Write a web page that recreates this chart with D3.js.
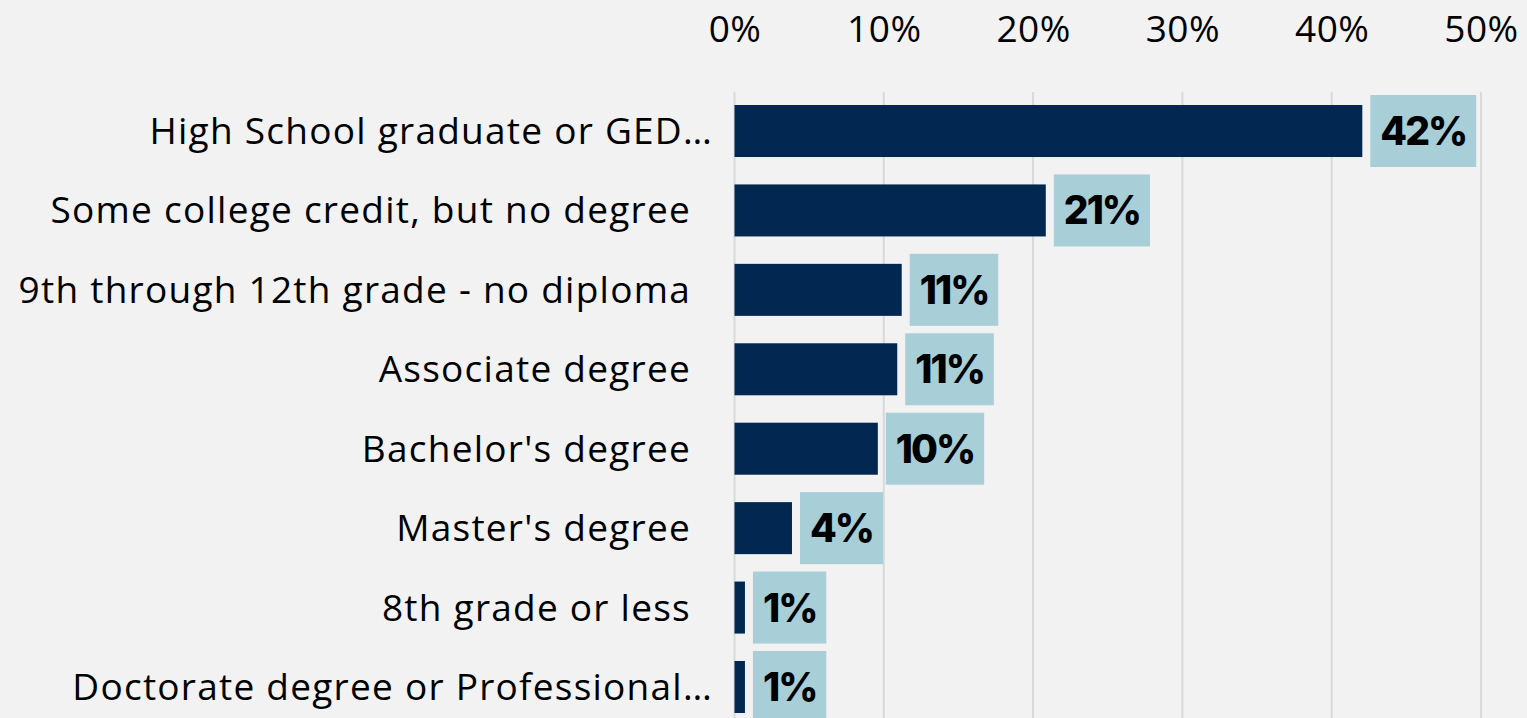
<!DOCTYPE html>
<html><head><meta charset="utf-8">
<script src="https://cdn.jsdelivr.net/npm/d3@7"></script>
<style>
html,body{margin:0;padding:0;background:#f2f2f2;}
svg{display:block;}
</style></head><body>
<svg id="chart" width="1527" height="718"></svg>
<script>
const categories = [
  "High School graduate or GED…",
  "Some college credit, but no degree",
  "9th through 12th grade - no diploma",
  "Associate degree",
  "Bachelor's degree",
  "Master's degree",
  "8th grade or less",
  "Doctorate degree or Professional…"
];
const values = [42.05, 20.85, 11.2, 10.9, 9.6, 3.85, 0.7, 0.7];
const valueLabels = ["42%", "21%", "11%", "11%", "10%", "4%", "1%", "1%"];
const tickValues = [0, 10, 20, 30, 40, 50];

const svg = d3.select("#chart");
const W = 1527, H = 718;
svg.append("rect").attr("width", W).attr("height", H).attr("fill", "#f2f2f2");

const x = d3.scaleLinear().domain([0, 50]).range([734.5, 1481]);
const y = d3.scaleBand().domain(categories).range([91.3, 726.7]).paddingInner(0.345).paddingOuter(0.1725);

// gridlines
svg.append("g").selectAll("line").data(tickValues).join("line")
  .attr("x1", d => x(d)).attr("x2", d => x(d))
  .attr("y1", 92).attr("y2", H)
  .attr("stroke", "#d9d9d9").attr("stroke-width", 2);

// top axis
const axis = svg.append("g").attr("transform", "translate(0,42)")
  .call(d3.axisTop(x).tickValues(tickValues).tickFormat(d => d + "%").tickSize(0).tickPadding(0));
axis.select(".domain").remove();
axis.selectAll("text").attr("font-family", "'Open Sans', sans-serif").attr("font-size", 37)
  .attr("letter-spacing", 0.5)
  .attr("fill", "#000").attr("dy", 0);

// bars
svg.append("g").selectAll("rect").data(categories).join("rect")
  .attr("x", x(0)).attr("y", d => y(d))
  .attr("width", (d, i) => x(values[i]) - x(0))
  .attr("height", y.bandwidth())
  .attr("fill", "#022852");

// category labels
svg.append("g").selectAll("text").data(categories).join("text")
  .attr("x", d => d.endsWith("…") ? 713 : 691)
  .attr("y", d => y(d) + y.bandwidth() / 2)
  .attr("dy", "0.35em")
  .attr("text-anchor", "end")
  .attr("font-family", "'Open Sans', sans-serif").attr("font-size", 37)
  .attr("letter-spacing", 1.25)
  .attr("fill", "#000")
  .text(d => d);

// value labels with box
const lg = svg.append("g").selectAll("g").data(categories).join("g");
lg.each(function(d, i) {
  const g = d3.select(this);
  const bx = x(values[i]) + 8;
  const cy = y(d) + y.bandwidth() / 2;
  const rect = g.append("rect").attr("fill", "#a8ced8");
  const t = g.append("text")
    .attr("x", bx + 10).attr("y", cy).attr("dy", "0.36em")
    .attr("font-family", "Inter, sans-serif").attr("font-weight", 800).attr("font-size", 39)
    .attr("letter-spacing", -2)
    .attr("fill", "#000").text(valueLabels[i]);
  const w = t.node().getComputedTextLength();
  rect.attr("x", bx).attr("y", cy - 36).attr("width", w + 20).attr("height", 72);
});
</script>
</body></html>
